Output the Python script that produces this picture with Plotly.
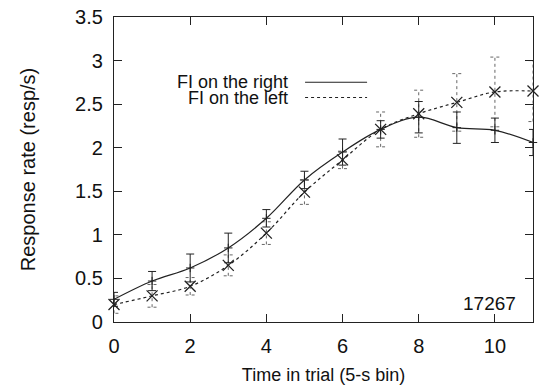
import plotly.graph_objects as go

x_bins = list(range(12))
right_rate = [0.26, 0.47, 0.62, 0.85, 1.19, 1.63, 1.95, 2.21, 2.35, 2.23, 2.20, 2.06]
right_err = [0.08, 0.11, 0.16, 0.17, 0.10, 0.10, 0.15, 0.10, 0.18, 0.18, 0.14, 0.15]
left_rate = [0.20, 0.30, 0.41, 0.65, 1.02, 1.49, 1.86, 2.21, 2.39, 2.52, 2.64, 2.65]
left_err = [0.10, 0.13, 0.10, 0.12, 0.13, 0.14, 0.10, 0.20, 0.27, 0.33, 0.40, 0.35]
legend_labels = ["FI on the right", "FI on the left"]
subject_id = "17267"

FONT = "Liberation Sans"
INK = "#222222"
TXT = "#111111"

fig = go.Figure()

# dotted error bars for the left series
ex, ey = [], []
cap = 0.12
for xi, v, e in zip(x_bins, left_rate, left_err):
    ex += [xi, xi, None, xi - cap, xi + cap, None, xi - cap, xi + cap, None]
    ey += [v - e, v + e, None, v + e, v + e, None, v - e, v - e, None]
fig.add_trace(go.Scatter(x=ex, y=ey, mode="lines", line=dict(color="#666666", width=1, dash="dot"),
                         hoverinfo="skip", showlegend=False, cliponaxis=False))

fig.add_trace(go.Scatter(
    x=x_bins, y=left_rate, mode="lines+markers", line=dict(color=INK, width=1.2, dash="dot", shape="spline"),
    marker=dict(symbol="x-thin-open", size=11, line=dict(color=INK, width=1.3)),
    showlegend=False, cliponaxis=False))

fig.add_trace(go.Scatter(
    x=x_bins, y=right_rate, mode="lines+markers", line=dict(color=INK, width=1.2, shape="spline"),
    marker=dict(symbol="cross-thin-open", size=6, line=dict(color=INK, width=1)),
    error_y=dict(type="data", array=right_err, visible=True, color=INK, thickness=1, width=4),
    showlegend=False, cliponaxis=False))

# legend drawn gnuplot style (text right-aligned, line sample to its right)
for i, (lab, dash) in enumerate(zip(legend_labels, ["solid", "dot"])):
    yy = 0.786 - i * 0.05
    fig.add_annotation(x=0.42, y=yy, xref="paper", yref="paper", text=lab, showarrow=False,
                       xanchor="right", yanchor="middle", font=dict(family=FONT, size=18, color=TXT))
    fig.add_shape(type="line", xref="paper", yref="paper", x0=0.456, x1=0.604, y0=yy, y1=yy,
                  line=dict(color=INK, width=1.2, dash=dash))

fig.add_annotation(x=0.965, y=0.062, xref="paper", yref="paper", text=subject_id, showarrow=False,
                   xanchor="right", yanchor="middle", font=dict(family=FONT, size=19, color=TXT))

axis_common = dict(showline=True, linecolor=INK, linewidth=1.2, mirror="ticks", ticks="inside",
                   ticklen=8, tickcolor=INK, showgrid=False, zeroline=False,
                   tickfont=dict(family=FONT, size=20, color=TXT))
fig.update_xaxes(range=[0, 11], tickvals=[0, 2, 4, 6, 8, 10], ticklabelstandoff=6,
                 title=dict(text="Time in trial (5-s bin)", font=dict(family=FONT, size=18, color=TXT), standoff=12),
                 **axis_common)
fig.update_yaxes(range=[0, 3.5], tickvals=[0, 0.5, 1, 1.5, 2, 2.5, 3, 3.5],
                 ticktext=["0", "0.5", "1", "1.5", "2", "2.5", "3", "3.5"], ticklabelstandoff=6,
                 title=dict(text="Response rate (resp/s)", font=dict(family=FONT, size=20, color=TXT), standoff=34),
                 **axis_common)

fig.update_layout(width=539, height=392, margin=dict(l=114, r=6, t=17, b=70),
                  plot_bgcolor="white", paper_bgcolor="white")

fig.write_html("out.html")
